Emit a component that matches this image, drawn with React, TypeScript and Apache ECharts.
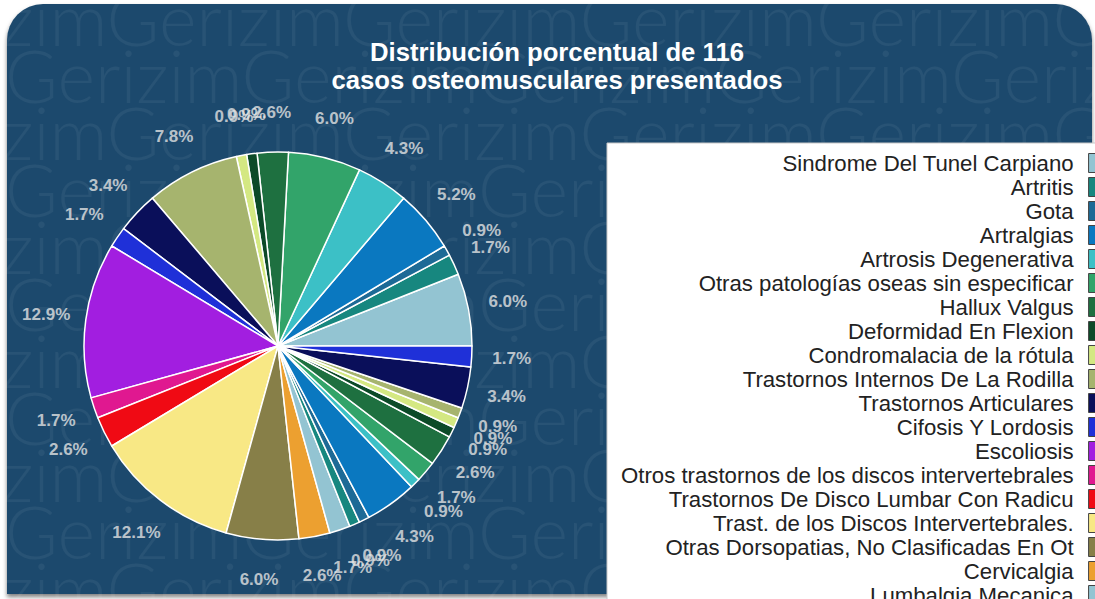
import React, { useEffect, useRef } from "react";
import * as echarts from "echarts";

const titleLines = ["Distribución porcentual de 116", "casos osteomusculares presentados"];

const categories = [
  "Sindrome Del Tunel Carpiano",
  "Artritis",
  "Gota",
  "Artralgias",
  "Artrosis Degenerativa",
  "Otras patologías oseas sin especificar",
  "Hallux Valgus",
  "Deformidad En Flexion",
  "Condromalacia de la rótula",
  "Trastornos Internos De La Rodilla",
  "Trastornos Articulares",
  "Cifosis Y Lordosis",
  "Escoliosis",
  "Otros trastornos de los discos intervertebrales",
  "Trastornos De Disco Lumbar Con Radicu",
  "Trast. de los Discos Intervertebrales.",
  "Otras Dorsopatias, No Clasificadas En Ot",
  "Cervicalgia",
  "Lumbalgia Mecanica",
  "Lumbago No Especificado",
  "Dorsalgia",
  "Tendinitis",
  "Bursitis",
  "Fascitis Plantar",
  "Epicondilitis",
  "Sindrome Del Manguito Rotador",
  "Fibromialgia",
  "Mialgia",
  "Espolon Calcaneo",
  "Tenosinovitis",
];

const cases = [7, 2, 1, 6, 5, 7, 3, 1, 1, 9, 4, 2, 15, 2, 3, 14, 7, 3, 2, 1, 1, 5, 1, 2, 3, 1, 1, 1, 4, 2];

const palette = [
  "#93c4d2", "#17877f", "#1d6a96", "#0a78c0", "#3cc0c6", "#32a46a",
  "#1e7040", "#0c4a28", "#d4e882", "#a6b46e", "#0a0f5a", "#1f30d8",
  "#a21ee0", "#e01890", "#f00a14", "#f8e885", "#877f48", "#eca030",
];

const watermarkWord = "Gerizim";

export default function App() {
  const ref = useRef<HTMLDivElement>(null);

  useEffect(() => {
    if (!ref.current) return;
    const chart = echarts.init(ref.current, null, { renderer: "svg" });
    const total = cases.reduce((a, b) => a + b, 0);
    const data = categories.map((name, i) => ({ name, value: cases[i] }));

    // label anchor points: middle of each slice, in data units of the angle axis
    let acc = 0;
    const labelPoints = cases.map((v) => {
      const mid = acc + v / 2;
      acc += v;
      return [1, mid];
    });

    const wmText = Array(7).fill(watermarkWord).join("");
    const watermark: any[] = [];
    for (let k = 0; k < 11; k++) {
      watermark.push({
        type: "text",
        x: k % 2 === 0 ? -130 : 5,
        y: 18 + k * 57,
        silent: true,
        style: {
          text: wmText,
          font: '300 72px Lato, "Open Sans", sans-serif',
          fill: "rgba(255,255,255,0.055)",
          textVerticalAlign: "middle",
        },
      });
    }

    chart.setOption({
      animation: false,
      color: palette,
      graphic: [
        {
          type: "rect",
          shape: { x: 7, y: 4, width: 1085, height: 590, r: [36, 36, 0, 0] },
          style: {
            fill: "#1f4a6d",
            shadowColor: "rgba(0,0,0,0.5)",
            shadowBlur: 4,
            shadowOffsetY: 3,
          },
          silent: true,
        },
        ...watermark,
        {
          type: "text",
          x: 557,
          y: 66,
          silent: true,
          style: {
            text: titleLines.join("\n"),
            font: 'bold 25.7px "Liberation Sans", Arial, sans-serif',
            fill: "#ffffff",
            textAlign: "center",
            textVerticalAlign: "middle",
            lineHeight: 28,
          },
        },
      ],
      polar: { center: [278, 346], radius: [0, 234] },
      angleAxis: {
        type: "value",
        min: 0,
        max: total,
        startAngle: 0,
        clockwise: false,
        show: false,
      },
      radiusAxis: { type: "value", min: 0, max: 1, show: false },
      legend: {
        data: categories,
        orient: "vertical",
        align: "right",
        left: 607,
        top: 143,
        height: 1200,
        padding: [8, 10, 8, 14],
        itemGap: 0,
        itemWidth: 14,
        itemHeight: 19,
        icon: "rect",
        backgroundColor: "#ffffff",
        borderColor: "#c8c8c8",
        borderWidth: 1,
        itemStyle: { borderColor: "#444", borderWidth: 1 },
        textStyle: {
          fontFamily: '"Liberation Sans", Arial, sans-serif',
          fontSize: 22.2,
          color: "#222",
          lineHeight: 24,
          padding: [0, 10, 0, 0],
        },
        selectedMode: false,
      },
      series: [
        {
          type: "pie",
          center: [278, 346],
          radius: 194,
          startAngle: 0,
          clockwise: false,
          data,
          label: { show: false },
          labelLine: { show: false },
          itemStyle: { borderColor: "#ffffff", borderWidth: 1.5 },
          emphasis: { disabled: true },
        },
        {
          type: "scatter",
          coordinateSystem: "polar",
          data: labelPoints,
          symbolSize: 0,
          silent: true,
          label: {
            show: true,
            position: "inside",
            color: "#e4e4e4",
            fontSize: 17,
            fontWeight: "bold",
            fontFamily: '"Liberation Sans", Arial, sans-serif',
            formatter: (p: any) => ((cases[p.dataIndex] / total) * 100).toFixed(1) + "%",
          },
          emphasis: { disabled: true },
        },
      ],
    });
    return () => chart.dispose();
  }, []);

  return (
    <div
      ref={ref}
      style={{ position: "fixed", left: 0, top: 0, width: 1095, height: 599, background: "#ffffff" }}
    />
  );
}
